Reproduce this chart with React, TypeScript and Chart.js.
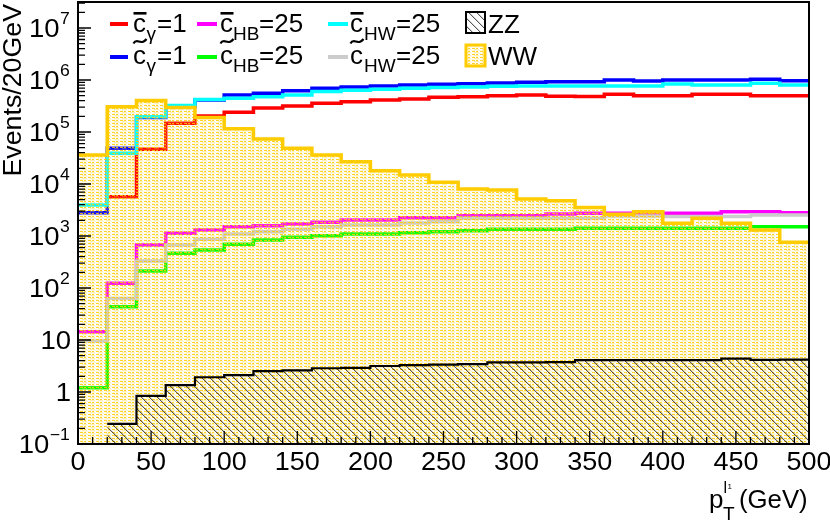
import React, { useEffect, useRef } from 'react';
import { Chart, registerables } from 'chart.js';

Chart.register(...registerables);

// ---- data ----
const binLow = [0, 20, 40, 60, 80, 100, 120, 140, 160, 180, 200, 220, 240, 260, 280, 300, 320, 340, 360, 380, 400, 420, 440, 460, 480];
const binEnd = 500;

const cGammaBar = [0, 5.7e3, 4.65e4, 1.47e5, 2.03e5, 2.39e5, 2.9e5, 3.16e5, 3.56e5, 3.83e5, 4.12e5, 4.31e5, 4.65e5, 4.77e5, 4.99e5, 5.15e5, 4.85e5, 4.8e5, 5.31e5, 4.99e5, 4.99e5, 5.31e5, 5.31e5, 4.99e5, 4.99e5];
const cGammaTilde = [2.8e3, 4.86e4, 1.9e5, 3.1e5, 4.1e5, 5.15e5, 5.55e5, 6.22e5, 6.92e5, 7.33e5, 7.67e5, 8.0e5, 8.26e5, 8.49e5, 8.75e5, 9.03e5, 9.27e5, 9.27e5, 1.0e6, 9.57e5, 1.0e6, 1.0e6, 1.0e6, 1.03e6, 9.7e5];
const cHBBar = [14.4, 123, 671, 1130, 1300, 1510, 1580, 1700, 1830, 2030, 2030, 2250, 2250, 2460, 2460, 2460, 2650, 2730, 2730, 2730, 2730, 2730, 2930, 2930, 2800];
const cHBTilde = [1.21, 43.7, 212, 465, 538, 692, 838, 944, 1010, 1090, 1090, 1160, 1210, 1260, 1350, 1350, 1350, 1410, 1410, 1410, 1410, 1410, 1410, 1510, 1510];
const cHWBar = [3.95e3, 3.89e4, 1.97e5, 3.24e5, 4.22e5, 4.45e5, 4.77e5, 5.15e5, 5.98e5, 6.34e5, 6.62e5, 6.92e5, 7.14e5, 7.33e5, 7.57e5, 7.67e5, 7.67e5, 7.67e5, 7.67e5, 7.67e5, 8.38e5, 8.0e5, 8.0e5, 8.65e5, 8.0e5];
const cHWTilde = [9.6, 63, 330, 671, 865, 1090, 1210, 1350, 1510, 1630, 1630, 1780, 1880, 2190, 2190, 2190, 2190, 2190, 2420, 2420, 2360, 2360, 2360, 2540, 2540];
const zzBkg = [0, 0.243, 0.84, 1.36, 1.92, 2.12, 2.53, 2.6, 2.86, 2.9, 3.16, 3.3, 3.35, 3.45, 3.7, 3.7, 3.75, 4.1, 4.1, 4.1, 4.1, 4.1, 4.4, 4.15, 4.2];
const wwBkg = [3.61e4, 3.07e5, 4.03e5, 2.96e5, 1.9e5, 1.15e5, 7.3e4, 4.86e4, 3.61e4, 2.69e4, 1.8e4, 1.49e4, 1.08e4, 8.0e3, 7.7e3, 5.15e3, 4.78e3, 3.53e3, 2.61e3, 2.93e3, 1.75e3, 2.19e3, 1.75e3, 1.3e3, 757];

const seriesLabels = ['c̄γ=1', 'c̃γ=1', 'c̄HB=25', 'c̃HB=25', 'c̄HW=25', 'c̃HW=25', 'ZZ', 'WW'];

const xTicks = [0, 50, 100, 150, 200, 250, 300, 350, 400, 450, 500];
const xTickLabels = ['0', '50', '100', '150', '200', '250', '300', '350', '400', '450', '500'];
const yDecades = [0.1, 1, 10, 100, 1e3, 1e4, 1e5, 1e6, 1e7];
const yTickBase = ['10', '1', '10', '10', '10', '10', '10', '10', '10'];
const yTickExp = ['−1', '', '', '2', '3', '4', '5', '6', '7'];
const yTitle = 'Events/20GeV';

const Y_MIN = 0.1;
const Y_MAX = 3.16e7;
const FONT = '"Liberation Sans", Arial, Helvetica, sans-serif';

function histPoints(vals: number[]) {
  const pts = binLow.map((x, i) => ({ x, y: vals[i] }));
  pts.push({ x: binEnd, y: vals[vals.length - 1] });
  return pts;
}

function makeWWPattern(ctx: CanvasRenderingContext2D) {
  const t = document.createElement('canvas');
  t.width = 8;
  t.height = 3;
  const c = t.getContext('2d')!;
  c.fillStyle = 'rgba(255,204,0,0.85)';
  c.fillRect(0, 0, 3, 1);
  c.fillRect(4, 0, 2, 1);
  c.fillStyle = 'rgba(255,210,40,0.35)';
  c.fillRect(2, 1, 5, 1);
  c.fillStyle = 'rgba(255,220,90,0.18)';
  c.fillRect(0, 2, 8, 1);
  return ctx.createPattern(t, 'repeat')!;
}

function makeHatch(ctx: CanvasRenderingContext2D) {
  const s = 8;
  const t = document.createElement('canvas');
  t.width = s;
  t.height = s;
  const c = t.getContext('2d')!;
  c.fillStyle = 'rgba(0,0,0,0.65)';
  for (let i = 0; i < s; i++) c.fillRect(i, i, 1, 1);
  c.fillStyle = 'rgba(0,0,0,0.18)';
  for (let i = 0; i < s; i++) c.fillRect((i + 1) % s, i, 1, 1);
  return ctx.createPattern(t, 'repeat')!;
}

function txt(ctx: CanvasRenderingContext2D, s: string, x: number, y: number, size: number, align: CanvasTextAlign = 'left', sx = 1) {
  ctx.save();
  ctx.font = `${size}px ${FONT}`;
  ctx.textAlign = align;
  ctx.textBaseline = 'alphabetic';
  ctx.translate(x, y);
  ctx.scale(sx, 1);
  ctx.fillText(s, 0, 0);
  const w = ctx.measureText(s).width * sx;
  ctx.restore();
  return w;
}

export default function App() {
  const ref = useRef<HTMLCanvasElement>(null);

  useEffect(() => {
    const canvas = ref.current!;
    const ctx0 = canvas.getContext('2d')!;
    const wwPat = makeWWPattern(ctx0);
    const zzPat = makeHatch(ctx0);

    const lineDs = (label: string, vals: number[], color: string, order: number) => ({
      label,
      data: histPoints(vals),
      borderColor: color,
      backgroundColor: color,
      borderWidth: 3.5,
      stepped: 'before' as const,
      pointRadius: 0,
      fill: false,
      order,
    });

    const decor = {
      id: 'decor',
      afterDraw(chart: any) {
        const ctx: CanvasRenderingContext2D = chart.ctx;
        const a = chart.chartArea;
        const xs = chart.scales.x;
        const ys = chart.scales.y;
        ctx.save();
        // ticks
        ctx.strokeStyle = '#000';
        ctx.lineWidth = 1.3;
        ctx.beginPath();
        for (let v = 0; v <= 500; v += 10) {
          const px = xs.getPixelForValue(v);
          const len = v % 50 === 0 ? 13 : 7;
          ctx.moveTo(px, a.bottom);
          ctx.lineTo(px, a.bottom - len);
        }
        yDecades.forEach((d) => {
          for (let m = 1; m <= 9; m++) {
            const v = d * m;
            if (v > Y_MAX) break;
            const py = ys.getPixelForValue(v);
            const len = m === 1 ? 13 : 7;
            ctx.moveTo(a.left, py);
            ctx.lineTo(a.left + len, py);
          }
        });
        ctx.stroke();
        // frame
        ctx.lineWidth = 2;
        ctx.strokeRect(a.left, a.top, a.right - a.left, a.bottom - a.top);

        ctx.fillStyle = '#000';
        // x tick labels
        xTicks.forEach((v, i) => {
          txt(ctx, xTickLabels[i], xs.getPixelForValue(v), 470, 25, 'center', 1.08);
        });
        // y tick labels
        const SX = 1.1;
        yDecades.forEach((d, i) => {
          const py = ys.getPixelForValue(d);
          const base = yTickBase[i];
          const ex = yTickExp[i];
          const rightInk = 70;
          if (ex) {
            ctx.font = `16px ${FONT}`;
            const em = ctx.measureText(ex);
            const ex0 = rightInk - em.actualBoundingBoxRight * SX;
            txt(ctx, ex, ex0, py - 4, 16, 'left', SX);
            txt(ctx, base, ex0 - 0.5, py + 9, 25, 'right', SX);
          } else {
            ctx.font = `25px ${FONT}`;
            const bm = ctx.measureText(base);
            txt(ctx, base, rightInk - bm.actualBoundingBoxRight * SX, py + 9, 25, 'left', SX);
          }
        });
        // y title
        ctx.save();
        ctx.translate(21, 4);
        ctx.rotate(-Math.PI / 2);
        ctx.font = `25px ${FONT}`;
        ctx.textAlign = 'right';
        ctx.scale(1.07, 1);
        ctx.fillText(yTitle, 0, 0);
        ctx.restore();
        // x title  p_T^{l1} (GeV)
        txt(ctx, 'p', 709, 508, 26);
        txt(ctx, 'l', 723.5, 493, 16);
        txt(ctx, '1', 727.5, 489, 8);
        txt(ctx, 'T', 723, 520, 19);
        txt(ctx, '(GeV)', 739, 508, 25, 'left', 1.03);

        // legend
        const drawCoef = (x: number, baseY: number, mark: 'bar' | 'tilde', sub: string, subX: number, rest: string, restX: number) => {
          ctx.fillStyle = '#000';
          ctx.font = `26px ${FONT}`;
          const cw = ctx.measureText('c').width;
          txt(ctx, 'c', x, baseY, 26);
          if (mark === 'bar') {
            ctx.fillRect(x + 0.5, baseY - 20, cw, 2.6);
          } else {
            const ty = baseY - 23;
            ctx.save();
            ctx.strokeStyle = '#000';
            ctx.lineWidth = 2.2;
            ctx.beginPath();
            ctx.moveTo(x + 0.5, ty + 2.5);
            ctx.bezierCurveTo(x + cw * 0.3, ty - 4, x + cw * 0.6, ty + 5.5, x + cw + 0.5, ty - 2);
            ctx.stroke();
            ctx.restore();
          }
          txt(ctx, sub, subX, baseY + 8, 19);
          txt(ctx, rest, restX, baseY, 26);
        };
        const sample = (x1: number, x2: number, y: number, color: string) => {
          ctx.save();
          ctx.strokeStyle = color;
          ctx.lineWidth = 4;
          ctx.beginPath();
          ctx.moveTo(x1, y);
          ctx.lineTo(x2, y);
          ctx.stroke();
          ctx.restore();
        };
        const r1 = 32;
        const r2 = 64;
        sample(110, 128, 24, '#FF0000');
        drawCoef(133, r1, 'bar', 'γ', 146.5, '=1', 157);
        sample(110, 128, 57, '#0000FF');
        drawCoef(133, r2, 'tilde', 'γ', 146.5, '=1', 157);
        sample(197, 217, 24, '#FF00FF');
        drawCoef(220, r1, 'bar', 'HB', 233, '=25', 259);
        sample(197, 217, 57, '#00FF00');
        drawCoef(220, r2, 'tilde', 'HB', 233, '=25', 259);
        sample(328, 348, 24, '#00FFFF');
        drawCoef(350, r1, 'bar', 'HW', 364, '=25', 396);
        sample(328, 348, 57, '#CCCCCC');
        drawCoef(350, r2, 'tilde', 'HW', 364, '=25', 396);
        // ZZ box
        ctx.save();
        ctx.fillStyle = '#fff';
        ctx.fillRect(466, 12, 19, 21);
        ctx.fillStyle = zzPat;
        ctx.fillRect(466, 12, 19, 21);
        ctx.strokeStyle = '#000';
        ctx.lineWidth = 2;
        ctx.strokeRect(466, 12, 19, 21);
        // WW box
        ctx.fillStyle = wwPat;
        ctx.fillRect(466, 45, 19, 21);
        ctx.strokeStyle = '#FFCC00';
        ctx.lineWidth = 3;
        ctx.strokeRect(466, 45, 19, 21);
        ctx.restore();
        ctx.fillStyle = '#000';
        txt(ctx, 'ZZ', 488, 33, 26);
        txt(ctx, 'WW', 488, 65, 26);

        ctx.restore();
      },
    };

    const chart = new Chart(canvas, {
      type: 'line',
      data: {
        datasets: [
          lineDs(seriesLabels[0], cGammaBar, '#FF0000', 16),
          lineDs(seriesLabels[1], cGammaTilde, '#0000FF', 15),
          lineDs(seriesLabels[2], cHBBar, '#FF00FF', 14),
          lineDs(seriesLabels[3], cHBTilde, '#00FF00', 13),
          lineDs(seriesLabels[4], cHWBar, '#00FFFF', 12),
          lineDs(seriesLabels[5], cHWTilde, '#CCCCCC', 11),
          {
            label: seriesLabels[7],
            data: histPoints(wwBkg),
            borderColor: '#FFCC00',
            backgroundColor: wwPat as any,
            borderWidth: 3.5,
            stepped: 'before' as const,
            pointRadius: 0,
            fill: 'start',
            order: 2,
          },
          {
            label: seriesLabels[6],
            data: histPoints(zzBkg),
            borderColor: '#000000',
            backgroundColor: zzPat as any,
            borderWidth: 2.2,
            stepped: 'before' as const,
            pointRadius: 0,
            fill: 'start',
            order: 1,
          },
        ] as any,
      },
      options: {
        animation: false,
        responsive: false,
        maintainAspectRatio: false,
        layout: { padding: { left: 78, right: 21, top: 2, bottom: 79 } },
        plugins: { legend: { display: false }, tooltip: { enabled: false } },
        scales: {
          x: { type: 'linear', min: 0, max: binEnd, display: false },
          y: { type: 'logarithmic', min: Y_MIN, max: Y_MAX, display: false },
        },
        elements: { point: { radius: 0 }, line: { tension: 0 } },
      },
      plugins: [decor],
    });
    return () => chart.destroy();
  }, []);

  return (
    <div style={{ position: 'fixed', left: 0, top: 0, width: 830, height: 523, background: '#fff' }}>
      <canvas ref={ref} width={830} height={523} style={{ display: 'block', width: 830, height: 523 }} />
    </div>
  );
}
